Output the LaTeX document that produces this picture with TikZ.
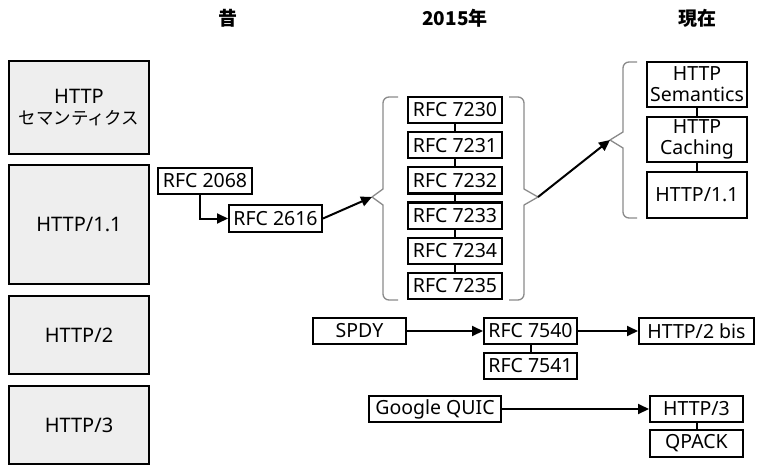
\documentclass[tikz,border=0pt]{standalone}
\usepackage{fontspec}
\setmainfont{Noto Sans}
\newfontfamily\jp{Noto Sans CJK JP}
\usetikzlibrary{arrows.meta}
\definecolor{catgray}{HTML}{EEEEEE}
\definecolor{bracegray}{HTML}{8A8A8A}
\begin{document}
\begin{tikzpicture}[x=1pt,y=-1pt,
  catbox/.style={draw, line width=2.4pt, fill=catgray, inner sep=0pt,
    minimum width=139.6pt, align=center, font=\fontsize{20}{21}\selectfont},
  rfcbox/.style={draw, line width=2.2pt, fill=white, inner sep=0pt,
    minimum height=26.3pt, align=center, font=\fontsize{19.5}{21}\selectfont},
  head/.style={font=\jp\bfseries\fontsize{19}{22}\selectfont, inner sep=0pt},
  link/.style={line width=2pt},
  arr/.style={line width=2pt, -{Triangle[length=11pt,width=10pt]}},
  bracepath/.style={draw=bracegray, line width=1.3pt, line join=round}
]
\useasboundingbox (0,0) rectangle (766,471);

% headers
\node[head] (hmukashi) at (228,18) {昔};
\node[head] (h2015) at (455,18) {2015年};
\node[head] (hgenzai) at (697,18) {現在};

% category boxes
\node[catbox, minimum height=92.6pt] (csem) at (79,107.5) {HTTP\\{\jp\fontsize{17.5}{20}\selectfont セマンティクス}};
\node[catbox, minimum height=118.6pt] (c11) at (79,224.5) {HTTP/1.1};
\node[catbox, minimum height=77.6pt] (c2) at (79,335) {HTTP/2};
\node[catbox, minimum height=77.6pt] (c3) at (79,425) {HTTP/3};

% HTTP/1.1 history
\node[rfcbox, minimum width=93.8pt] (r2068) at (205,181) {RFC 2068};
\node[rfcbox, minimum width=92.8pt] (r2616) at (275.5,218.5) {RFC 2616};

\foreach \n/\y in {7230/110, 7231/145.2, 7232/180.4, 7233/215.6, 7234/250.8, 7235/286}
  \node[rfcbox, minimum width=93.8pt] (r\n) at (455,\y) {RFC \n};

\node[rfcbox, minimum width=99.8pt, minimum height=44.8pt] (nsem) at (697,84.5) {HTTP\\Semantics};
\node[rfcbox, minimum width=99.8pt, minimum height=44.8pt] (ncache) at (697,139.5) {HTTP\\Caching};
\node[rfcbox, minimum width=99.8pt, minimum height=45.8pt] (n11) at (697,195) {HTTP/1.1};

% HTTP/2
\node[rfcbox, minimum width=92.8pt] (spdy) at (359.5,331) {SPDY};
\node[rfcbox, minimum width=92.8pt] (r7540) at (530.5,331) {RFC 7540};
\node[rfcbox, minimum width=92.8pt] (r7541) at (530.5,366) {RFC 7541};
\node[rfcbox, minimum width=114.8pt] (h2bis) at (696.5,331) {HTTP/2 bis};

% HTTP/3
\node[rfcbox, minimum width=131.8pt] (quic) at (435,409) {Google QUIC};
\node[rfcbox, minimum width=92.8pt] (h3) at (696.5,409) {HTTP/3};
\node[rfcbox, minimum width=92.8pt, minimum height=26.8pt] (qpack) at (696.5,443.5) {QPACK};

% braces
\coordinate (bLtip) at (372,197);
\coordinate (bRtip) at (538,197);
\coordinate (bNtip) at (610,140);
\draw[bracepath] (398,97) [rounded corners=6pt] -- (383,97) -- (383,150)
  [sharp corners] -- (383,189) -- (bLtip) -- (383,205)
  [rounded corners=6pt] -- (383,300) -- (398,300);
\draw[bracepath] (509,97) [rounded corners=6pt] -- (524,97) -- (524,150)
  [sharp corners] -- (524,189) -- (bRtip) -- (524,205)
  [rounded corners=6pt] -- (524,300) -- (509,300);
\draw[bracepath] (637,62) [rounded corners=6pt] -- (623,62) -- (623,100)
  [sharp corners] -- (623,132) -- (bNtip) -- (623,148)
  [rounded corners=6pt] -- (623,218) -- (637,218);

% connectors
\draw[arr] ([xshift=-5pt]r2068.south) |- (r2616.west);
\draw[arr] (r2616.east) -- (bLtip);
\draw[arr] (bRtip) -- (bNtip);
\draw[link] (r7230) -- (r7231);
\draw[link] (r7231) -- (r7232);
\draw[link] (r7232) -- (r7233);
\draw[link] (r7233) -- (r7234);
\draw[link] (r7234) -- (r7235);
\draw[link] (nsem) -- (ncache);
\draw[link] (ncache) -- (n11);
\draw[arr] (spdy.east) -- (r7540.west);
\draw[arr] (r7540.east) -- (h2bis.west);
\draw[link] (r7540) -- (r7541);
\draw[arr] (quic.east) -- (h3.west);
\draw[link] (h3) -- (qpack);
\end{tikzpicture}
\end{document}
